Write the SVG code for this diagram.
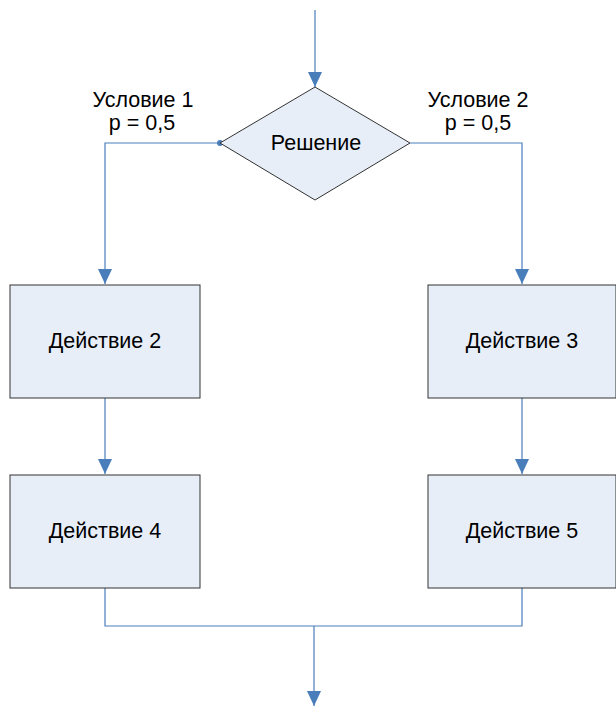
<svg xmlns="http://www.w3.org/2000/svg" width="616" height="706" viewBox="0 0 616 706">
<style>
.n{fill:#e8eef8;stroke:#333;stroke-width:1}
.t{font-family:"Liberation Sans",Arial,sans-serif;font-size:21.5px;fill:#000;text-anchor:middle}
.c{fill:none;stroke:#4a7ebb;stroke-width:1.2}
</style>
<defs>
<marker id="a" markerWidth="15" markerHeight="14" refX="15" refY="7" orient="auto" markerUnits="userSpaceOnUse" viewBox="0 0 15 14">
<path d="M0,0 L15,7 L0,14 Z" fill="#4a7ebb"/>
</marker>
</defs>
<rect width="616" height="706" fill="#fff"/>
<g id="connectors">
<path class="c" d="M315,10 V87" marker-end="url(#a)"/>
<path class="c" d="M220,143 H105 V284" marker-end="url(#a)"/>
<circle cx="220" cy="143" r="3" fill="#4a7ebb"/>
<path class="c" d="M410,143 H522 V284" marker-end="url(#a)"/>
<path class="c" d="M105,398 V474" marker-end="url(#a)"/>
<path class="c" d="M522,398 V474" marker-end="url(#a)"/>
<path class="c" d="M105,588 V626 H522 V588"/>
<path class="c" d="M314,626 V706" marker-end="url(#a)"/>
</g>
<g id="label1"><text class="t" x="143" y="107">Условие 1</text><text class="t" x="142" y="130">p = 0,5</text></g>
<g id="label2"><text class="t" x="478" y="107">Условие 2</text><text class="t" x="478" y="130">p = 0,5</text></g>
<g id="decision"><polygon class="n" points="315,87 410,143 315,200 220,143"/><text class="t" x="316" y="150">Решение</text></g>
<g id="action2"><rect class="n" x="10" y="285" width="190" height="113"/><text class="t" x="105" y="348">Действие 2</text></g>
<g id="action3"><rect class="n" x="428" y="285" width="188" height="113"/><text class="t" x="522" y="348">Действие 3</text></g>
<g id="action4"><rect class="n" x="10" y="475" width="190" height="113"/><text class="t" x="105" y="538">Действие 4</text></g>
<g id="action5"><rect class="n" x="428" y="475" width="188" height="113"/><text class="t" x="522" y="538">Действие 5</text></g>
</svg>
